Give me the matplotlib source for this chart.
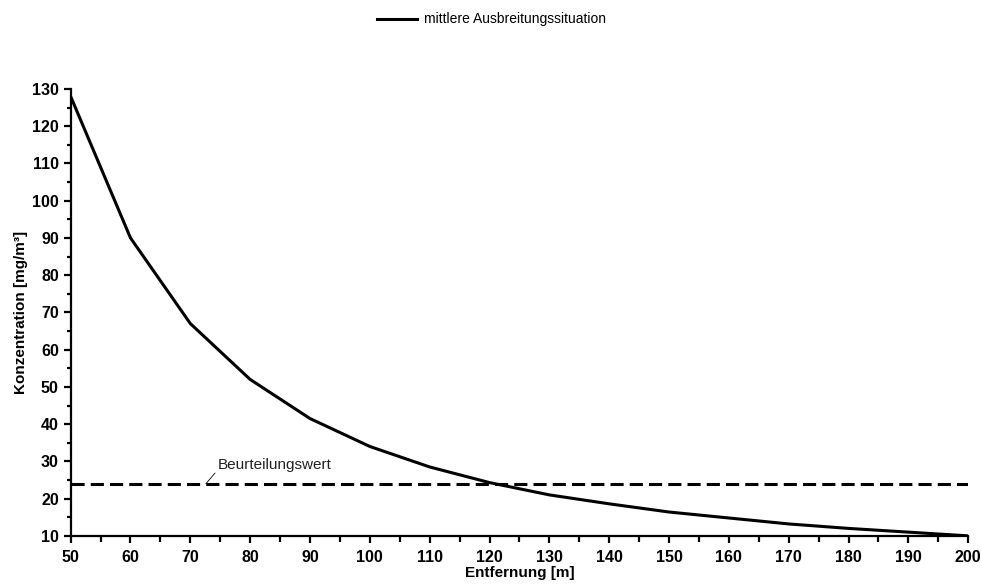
import matplotlib.pyplot as plt
from matplotlib.ticker import MultipleLocator

plt.rcParams['font.family'] = ['Liberation Sans', 'DejaVu Sans']

# Entfernung [m] und Konzentration [mg/m3]
distance = [50, 60, 70, 80, 90, 100, 110, 120, 130, 140, 150, 160, 170, 180, 190, 200]
concentration = [128, 90, 67, 52, 41.5, 34, 28.5, 24.3, 21, 18.6, 16.4, 14.8, 13.2, 12, 11, 10]

limit_value = 24
limit_label = "Beurteilungswert"
series_label = "mittlere Ausbreitungssituation"

fig = plt.figure(figsize=(9.81, 5.85), dpi=100)
ax = fig.add_axes([0.072, 0.084, 0.915, 0.764])

ax.plot(distance, concentration, color='black', lw=2.2, label=series_label)
ax.axhline(limit_value, color='black', lw=2.2, dashes=(4.3, 2.0))

ax.annotate(limit_label, xy=(72.6, limit_value), xytext=(74.6, 28.9),
            fontsize=11, va='center', ha='left', color='#222222',
            arrowprops=dict(arrowstyle='-', color='black', lw=0.6,
                            shrinkA=0, shrinkB=0, relpos=(-0.02, 0.0)))

ax.set_xlim(50, 200)
ax.set_ylim(10, 130)
ax.xaxis.set_major_locator(MultipleLocator(10))
ax.xaxis.set_minor_locator(MultipleLocator(5))
ax.yaxis.set_major_locator(MultipleLocator(10))
ax.yaxis.set_minor_locator(MultipleLocator(5))

for side in ['top', 'right']:
    ax.spines[side].set_visible(False)
for side in ['left', 'bottom']:
    ax.spines[side].set_linewidth(1.6)

ax.tick_params(which='major', direction='out', length=5, width=1.6, labelsize=11.5)
ax.tick_params(axis='x', which='major', pad=5)
ax.tick_params(axis='x', which='minor', direction='out', length=4, width=1.6)
ax.tick_params(axis='y', which='minor', direction='out', length=3, width=1.6)
for lab in ax.get_xticklabels() + ax.get_yticklabels():
    lab.set_fontweight('bold')

ax.set_xlabel("Entfernung [m]", fontsize=11, fontweight='bold', labelpad=1)
ax.set_ylabel("Konzentration [mg/m³]", fontsize=11, fontweight='bold', labelpad=3)

fig.legend(loc='upper center', bbox_to_anchor=(0.501, 1.0), frameon=False,
           fontsize=10, handlelength=2.9, handletextpad=0.5)

fig.savefig("out.png", dpi=100)
